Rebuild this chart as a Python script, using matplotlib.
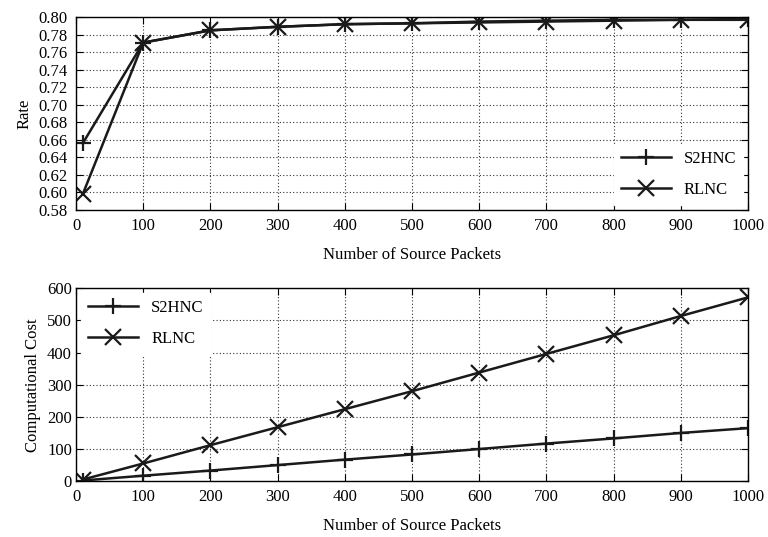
import matplotlib
matplotlib.use("Agg")
import matplotlib.pyplot as plt

plt.rcParams['font.family'] = ['Liberation Serif', 'DejaVu Serif']
plt.rcParams['font.size'] = 12

packets = [10, 100, 200, 300, 400, 500, 600, 700, 800, 900, 1000]

rate_s2hnc = [0.656, 0.771, 0.785, 0.789, 0.792, 0.793, 0.795, 0.796, 0.797, 0.797, 0.798]
rate_rlnc = [0.598, 0.771, 0.785, 0.789, 0.792, 0.793, 0.794, 0.795, 0.796, 0.797, 0.797]

cost_s2hnc = [2, 17, 33, 50, 67, 83, 100, 117, 133, 150, 165]
cost_rlnc = [5, 55, 112, 168, 224, 280, 338, 396, 454, 514, 572]

xticks = list(range(0, 1001, 100))
rate_ticks = [0.58 + 0.02 * i for i in range(12)]

fig = plt.figure(figsize=(7.68, 5.37), dpi=100)
ax1 = fig.add_axes([0.099, 0.609, 0.875, 0.359])
ax2 = fig.add_axes([0.099, 0.104, 0.875, 0.359])

line_kw = dict(color='#1a1a1a', lw=1.8, ms=12, mew=1.6)

def style(ax):
    ax.set_xlim(0, 1000)
    ax.set_xticks(xticks)
    ax.grid(True, color='#333333', linestyle=(0, (1, 2)), lw=0.8)
    ax.tick_params(direction='in', top=True, right=True, length=5, pad=6)
    for s in ax.spines.values():
        s.set_linewidth(1.0)
    ax.set_xlabel('Number of Source Packets', labelpad=9)

ax1.plot(packets, rate_s2hnc, marker='+', label='S2HNC', **line_kw)
ax1.plot(packets, rate_rlnc, marker='x', label='RLNC', **line_kw)
ax1.set_ylim(0.58, 0.80)
ax1.set_yticks(rate_ticks)
ax1.set_yticklabels(['%.2f' % t for t in rate_ticks])
ax1.tick_params(axis='y', pad=3)
ax1.set_ylabel('Rate')
style(ax1)
ax1.legend(loc='lower right', handlelength=3, frameon=True, fancybox=False,
           edgecolor='white', framealpha=1, borderaxespad=0.3, labelspacing=0.9)

ax2.plot(packets, cost_s2hnc, marker='+', label='S2HNC', **line_kw)
ax2.plot(packets, cost_rlnc, marker='x', label='RLNC', **line_kw)
ax2.set_ylim(0, 600)
ax2.set_yticks(range(0, 601, 100))
ax2.set_ylabel('Computational Cost')
style(ax2)
ax2.tick_params(axis='y', pad=3)
ax2.legend(loc='upper left', handlelength=3, frameon=True, fancybox=False,
           edgecolor='white', framealpha=1, borderaxespad=0.3, labelspacing=0.9)

fig.savefig('out.png', dpi=100)
